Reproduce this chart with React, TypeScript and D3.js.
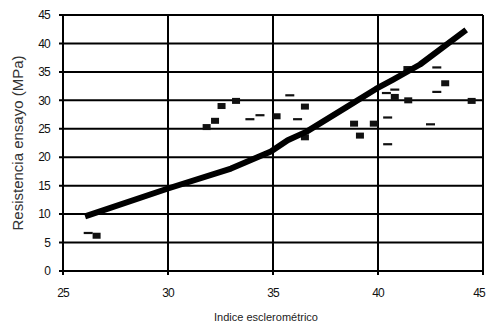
import { useRef, useEffect } from 'react';
import * as d3 from 'd3';

const WIDTH = 487;
const HEIGHT = 326;

// fitted curve (indice, MPa)
const curveX = [26.05, 30, 33, 34.9, 35.7, 36.6, 38.5, 39.9, 40.7, 42, 44.2];
const curveY = [9.6, 14.5, 18, 21, 23, 24.5, 28.8, 32, 33.6, 36.3, 42.4];

// test results, filled blocks
const blockX = [26.6, 31.84, 32.24, 32.55, 33.24, 35.17, 36.52, 36.52, 38.86, 39.14, 39.8, 40.8, 41.44, 41.4, 43.2, 44.46];
const blockY = [6.2, 25.3, 26.4, 29.0, 29.9, 27.2, 28.9, 23.5, 25.9, 23.8, 25.9, 30.6, 30.0, 35.5, 33.0, 29.9];

// test results, short dashes
const dashX = [26.2, 33.9, 34.38, 35.8, 36.17, 40.4, 40.46, 40.46, 40.8, 42.5, 42.8, 42.8];
const dashY = [6.7, 26.7, 27.4, 30.9, 26.7, 31.3, 27.0, 22.3, 31.9, 25.8, 31.5, 35.8];

const xTicks = [25, 30, 35, 40, 45];
const yTicks = [0, 5, 10, 15, 20, 25, 30, 35, 40, 45];

const Chart = () => {
  const svgRef = useRef<SVGSVGElement>(null);

  useEffect(() => {
    const svg = d3.select(svgRef.current);
    svg.selectAll('*').remove();

    const x = d3.scaleLinear().domain([25, 45]).range([63, 483]);
    const y = d3.scaleLinear().domain([0, 45]).range([271, 15]);

    const grid = svg.append('g').attr('stroke', '#000').attr('stroke-width', 2);

    // horizontal grid + left ticks
    grid.selectAll('line.h')
      .data(yTicks)
      .join('line')
      .attr('x1', x(25) - 4)
      .attr('x2', x(45))
      .attr('y1', d => y(d))
      .attr('y2', d => y(d));

    // vertical grid + bottom ticks
    grid.selectAll('line.v')
      .data(xTicks)
      .join('line')
      .attr('x1', d => x(d))
      .attr('x2', d => x(d))
      .attr('y1', y(45))
      .attr('y2', y(0) + 4);

    const font = 'Arial, "Liberation Sans", sans-serif';

    svg.append('g')
      .selectAll('text')
      .data(yTicks)
      .join('text')
      .attr('x', 50)
      .attr('y', d => y(d))
      .attr('dy', '0.35em')
      .attr('text-anchor', 'end')
      .attr('font-family', font)
      .attr('font-size', 12)
      .attr('letter-spacing', -0.8)
      .attr('fill', '#111')
      .text(d => d);

    // last label would be clipped at the right edge, so pin it to the edge
    svg.append('g')
      .selectAll('text')
      .data(xTicks)
      .join('text')
      .attr('x', (d, i) => (i === xTicks.length - 1 ? WIDTH - 2 : x(d)))
      .attr('y', 297)
      .attr('text-anchor', (d, i) => (i === xTicks.length - 1 ? 'end' : 'middle'))
      .attr('font-family', font)
      .attr('font-size', 12)
      .attr('letter-spacing', -0.8)
      .attr('fill', '#111')
      .text(d => d);

    svg.append('text')
      .attr('x', 266)
      .attr('y', 321)
      .attr('text-anchor', 'middle')
      .attr('font-family', font)
      .attr('font-size', 11)
      .attr('fill', '#222')
      .text('Indice esclerométrico');

    svg.append('text')
      .attr('transform', 'translate(23,143) rotate(-90)')
      .attr('text-anchor', 'middle')
      .attr('font-family', font)
      .attr('font-size', 15)
      .attr('fill', '#333')
      .text('Resistencia ensayo (MPa)');

    // dashes
    svg.append('g')
      .selectAll('rect')
      .data(dashX.map((d, i) => [d, dashY[i]]))
      .join('rect')
      .attr('x', d => x(d[0]) - 4.5)
      .attr('y', d => y(d[1]) - 1)
      .attr('width', 9)
      .attr('height', 2.2)
      .attr('fill', '#111');

    // blocks
    svg.append('g')
      .selectAll('rect')
      .data(blockX.map((d, i) => [d, blockY[i]]))
      .join('rect')
      .attr('x', d => x(d[0]) - 4)
      .attr('y', d => y(d[1]) - 3)
      .attr('width', 8)
      .attr('height', 6)
      .attr('fill', '#111');

    const line = d3.line<number>()
      .x(d => x(d))
      .y((d, i) => y(curveY[i]));

    svg.append('path')
      .datum(curveX)
      .attr('fill', 'none')
      .attr('stroke', '#000')
      .attr('stroke-width', 6)
      .attr('stroke-linejoin', 'round')
      .attr('stroke-linecap', 'butt')
      .attr('d', line);
  }, []);

  return (
    <svg
      ref={svgRef}
      width={WIDTH}
      height={HEIGHT}
      style={{ position: 'absolute', left: 0, top: 0, background: '#fff' }}
    />
  );
};

export default function App() {
  return <Chart />;
}
